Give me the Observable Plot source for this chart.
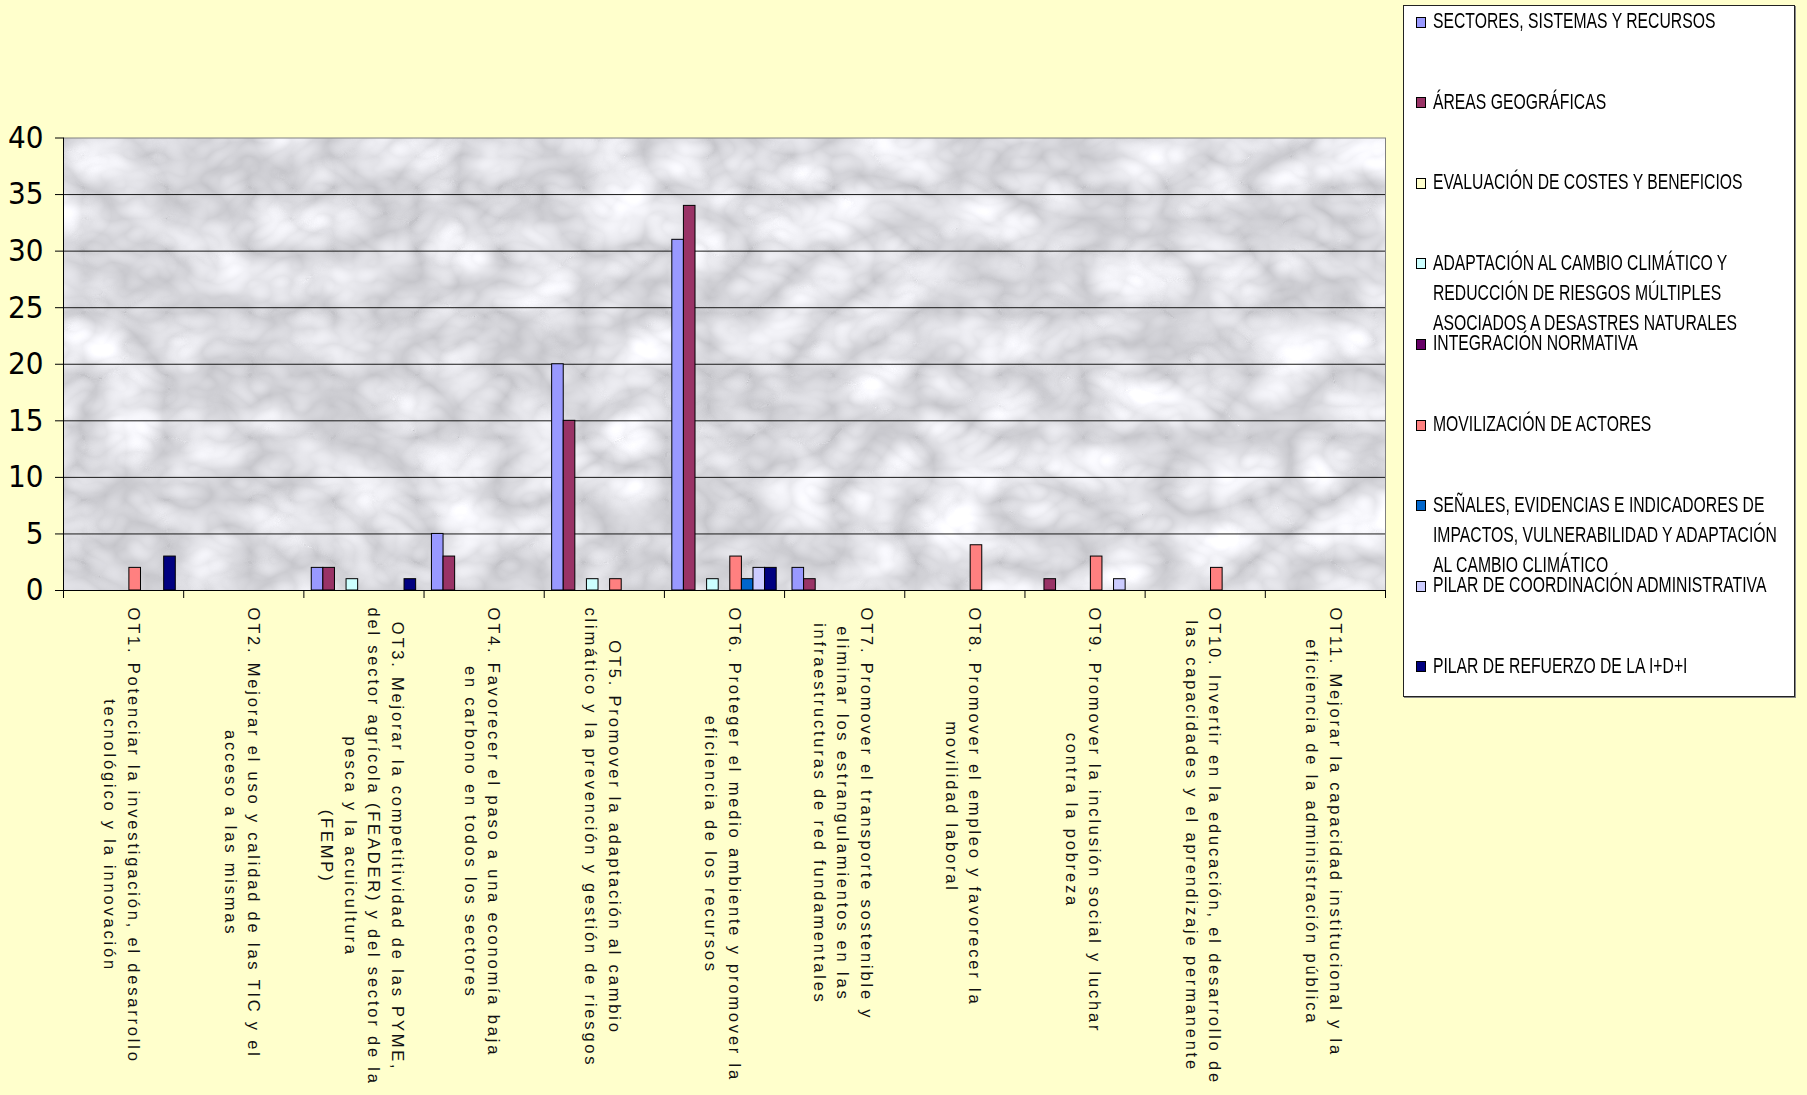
<!DOCTYPE html>
<html>
<head>
<meta charset="utf-8">
<script src="https://cdn.jsdelivr.net/npm/d3@7"></script>
<script src="https://cdn.jsdelivr.net/npm/@observablehq/plot@0.6"></script>
<style>
html, body { margin: 0; padding: 0; background: #FFFFCC; }
#wrap { position: relative; width: 1807px; height: 1095px; overflow: hidden; background: #FFFFCC; }
#chart { position: absolute; left: 0; top: 0; }
#legend { position: absolute; left: 1403px; top: 5px; width: 390px; height: 690px; background: #ffffff; border: 1px solid #222; box-shadow: 1px 1px 0 #8a8a8a; }
.sw { position: absolute; left: 12px; width: 8px; height: 9px; border: 1px solid #000; }
.lt { position: absolute; left: 29px; white-space: pre; font-size: 22px; line-height: 30px; color: #000; transform-origin: 0 0; }
</style>
</head>
<body>
<div id="wrap"><div id="chart"></div><div id="legend"></div></div>
<script>
// ---- Data ----
const categories = [
  "OT1. Potenciar la investigación, el desarrollo\ntecnológico y la innovación",
  "OT2. Mejorar el uso y calidad de las TIC y el\nacceso a las mismas",
  "OT3. Mejorar la competitividad de las PYME,\ndel sector agrícola (FEADER) y del sector de la\npesca y la acuicultura\n(FEMP)",
  "OT4. Favorecer el paso a una economía baja\nen carbono en todos los sectores",
  "OT5. Promover la adaptación al cambio\nclimático y la prevención y gestión de riesgos",
  "OT6. Proteger el medio ambiente y promover la\neficiencia de los recursos",
  "OT7. Promover el transporte sostenible y\neliminar los estrangulamientos en las\ninfraestructuras de red fundamentales",
  "OT8. Promover el empleo y favorecer la\nmovilidad laboral",
  "OT9. Promover la inclusión social y luchar\ncontra la pobreza",
  "OT10. Invertir en la educación, el desarrollo de\nlas capacidades y el aprendizaje permanente",
  "OT11. Mejorar la capacidad institucional y la\neficiencia de la administración pública"
];

const series = [
  "SECTORES, SISTEMAS Y RECURSOS",
  "ÁREAS GEOGRÁFICAS",
  "EVALUACIÓN DE COSTES Y BENEFICIOS",
  "ADAPTACIÓN AL CAMBIO CLIMÁTICO Y\nREDUCCIÓN DE RIESGOS MÚLTIPLES\nASOCIADOS A DESASTRES NATURALES",
  "INTEGRACIÓN NORMATIVA",
  "MOVILIZACIÓN DE ACTORES",
  "SEÑALES, EVIDENCIAS E INDICADORES DE\nIMPACTOS, VULNERABILIDAD Y ADAPTACIÓN\nAL CAMBIO CLIMÁTICO",
  "PILAR DE COORDINACIÓN ADMINISTRATIVA",
  "PILAR DE REFUERZO DE LA I+D+I"
];

const colors = ["#9999FF", "#993366", "#FFFFCC", "#CCFFFF", "#660066", "#FF8080", "#0066CC", "#CCCCFF", "#000080"];

const sectores     = [0, 0, 2, 5, 20, 31, 2, 0, 0, 0, 0];
const areas        = [0, 0, 2, 3, 15, 34, 1, 0, 1, 0, 0];
const evaluacion   = [0, 0, 0, 0, 0, 0, 0, 0, 0, 0, 0];
const adaptacion   = [0, 0, 1, 0, 1, 1, 0, 0, 0, 0, 0];
const integracion  = [0, 0, 0, 0, 0, 0, 0, 0, 0, 0, 0];
const movilizacion = [2, 0, 0, 0, 1, 3, 0, 4, 3, 2, 0];
const senales      = [0, 0, 0, 0, 0, 1, 0, 0, 0, 0, 0];
const coordinacion = [0, 0, 0, 0, 0, 2, 0, 0, 1, 0, 0];
const refuerzo     = [3, 0, 1, 0, 0, 2, 0, 0, 0, 0, 0];

const yTicks = [0, 5, 10, 15, 20, 25, 30, 35, 40];

const seriesValues = [sectores, areas, evaluacion, adaptacion, integracion, movilizacion, senales, coordinacion, refuerzo];

const rows = [];
seriesValues.forEach((vals, j) => vals.forEach((v, i) => {
  if (v > 0) rows.push({i, j, series: series[j], value: v});
}));

// ---- Layout helpers ----
const nS = series.length;
const bw = 0.0965;
const pad = (1 - nS * bw) / 2;
const narrowFamily = "'Liberation Sans Narrow', 'Arial Narrow', 'DejaVu Sans Condensed', 'Liberation Sans', sans-serif";
const labelFamily = "'Liberation Sans', Arial, sans-serif";

const chart = Plot.plot({
  width: 1400,
  height: 1095,
  marginLeft: 63,
  marginRight: 15,
  marginTop: 137.5,
  marginBottom: 505,
  style: {background: "transparent", overflow: "visible", color: "#000"},
  x: {domain: [0, categories.length], label: null},
  y: {domain: [0, 40], label: null},
  color: {domain: series, range: colors},
  marks: [
    Plot.frame({fill: "#dcdce0", stroke: "none"}),
    Plot.ruleY(yTicks.filter(t => t > 0 && t < 40), {stroke: "#1a1a1a", strokeWidth: 1}),
    Plot.ruleY([40], {stroke: "#808080"}),
    Plot.ruleX([categories.length], {stroke: "#808080"}),
    Plot.rect(rows, {
      x1: d => d.i + pad + d.j * bw,
      x2: d => d.i + pad + (d.j + 1) * bw,
      y1: d => 0,
      y2: "value",
      fill: "series",
      stroke: "#000",
      strokeWidth: 1
    }),
    Plot.ruleY([0], {stroke: "#000"}),
    Plot.ruleX([0], {stroke: "#000"}),
    Plot.axisY(yTicks, {label: null, tickSize: 8, tickPadding: 12, fontSize: 31, fontFamily: narrowFamily, stroke: "#000", fill: "#000"}),
    Plot.axisX(d3.range(categories.length + 1), {label: null, tickSize: 8, tickFormat: () => "", stroke: "#000"}),
    Plot.text(categories, {
      x: (d, i) => i + 0.5,
      y: d => 0,
      text: d => d,
      rotate: 90,
      textAnchor: "middle",
      lineAnchor: "middle",
      lineHeight: 1.42,
      fontSize: 16.5,
      fontFamily: labelFamily,
      fill: "#111"
    })
  ]
});

document.getElementById("chart").appendChild(chart);

// marble-like texture for the plot area
const NS = "http://www.w3.org/2000/svg";
const defs = document.createElementNS(NS, "defs");
const filter = document.createElementNS(NS, "filter");
filter.setAttribute("id", "marble");
filter.setAttribute("x", "0"); filter.setAttribute("y", "0");
filter.setAttribute("width", "1"); filter.setAttribute("height", "1");
filter.setAttribute("color-interpolation-filters", "sRGB");
const turb = document.createElementNS(NS, "feTurbulence");
turb.setAttribute("type", "turbulence");
turb.setAttribute("baseFrequency", "0.012 0.016");
turb.setAttribute("numOctaves", "3");
turb.setAttribute("seed", "7");
const cm = document.createElementNS(NS, "feColorMatrix");
cm.setAttribute("type", "matrix");
cm.setAttribute("values", "0.34 0 0 0 0.77  0.34 0 0 0 0.77  0.34 0 0 0 0.79  0 0 0 0 1");
filter.appendChild(turb); filter.appendChild(cm); defs.appendChild(filter);
chart.insertBefore(defs, chart.firstChild);
const fr = chart.querySelector('[aria-label="frame"]');
if (fr) {
  const rect = fr.tagName.toLowerCase() === "rect" ? fr : fr.querySelector("rect");
  if (rect) rect.setAttribute("filter", "url(#marble)");
}

// category labels: letter spacing and top-aligned blocks with centered lines
const tg = chart.querySelector('g[aria-label="text"]');
if (tg) {
  tg.setAttribute("letter-spacing", "2.8");
  for (const t of tg.querySelectorAll("text")) {
    const spans = t.querySelectorAll("tspan");
    let L = 0;
    if (spans.length) spans.forEach(s => { L = Math.max(L, s.getComputedTextLength()); });
    else L = t.getComputedTextLength();
    t.setAttribute("transform", (t.getAttribute("transform") || "") + ` translate(${L / 2 + 17},0)`);
  }
}

// ---- Legend ----
const legend = document.getElementById("legend");
const legendFamily = "'Liberation Sans Narrow', 'Liberation Sans', Arial, sans-serif";
const ctx = document.createElement("canvas").getContext("2d");
ctx.font = `22px ${legendFamily}`;
const sx = 283 / ctx.measureText(series[0]).width;
series.forEach((name, k) => {
  const cy = 15 + k * 80.6;
  const sw = document.createElement("div");
  sw.className = "sw";
  sw.style.top = (cy - 4.5) + "px";
  sw.style.background = colors[k];
  legend.appendChild(sw);
  const lt = document.createElement("div");
  lt.className = "lt";
  lt.style.top = (cy - 15) + "px";
  lt.style.fontFamily = legendFamily;
  lt.style.transform = `scaleX(${sx})`;
  lt.textContent = name;
  legend.appendChild(lt);
});
</script>
</body>
</html>
